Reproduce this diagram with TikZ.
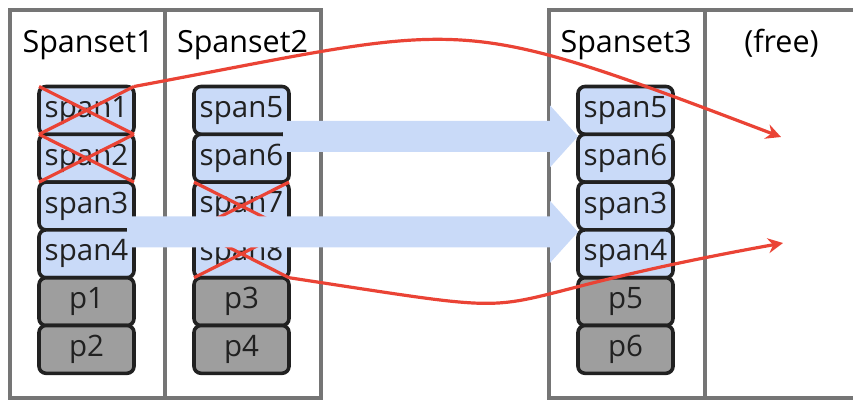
\documentclass[tikz,border=0pt]{standalone}
\usepackage{fontspec}
\setmainfont{Open Sans}
\usetikzlibrary{calc,arrows.meta}
\definecolor{colgray}{HTML}{757575}
\definecolor{boxblue}{HTML}{C9DAF8}
\definecolor{boxgray}{HTML}{9E9E9E}
\definecolor{boxline}{HTML}{212121}
\definecolor{redline}{HTML}{EA4335}
\newcommand{\fatarrow}[2]{%
  \fill[bigarrow] ($(#1)+(0,-15.5)$) -- ($(#2)+(-28,-15.5)$) -- ($(#2)+(-28,-31)$) -- (#2)
    -- ($(#2)+(-28,31)$) -- ($(#2)+(-28,15.5)$) -- ($(#1)+(0,15.5)$) -- cycle;}
\begin{document}
\begin{tikzpicture}[x=1pt,y=-1pt,
  column/.style={draw=colgray,line width=3.2pt},
  spanbox/.style={draw=boxline,line width=3.6pt,rounded corners=7pt,fill=boxblue,
    minimum width=95pt,minimum height=47.8pt,inner sep=0pt,outer sep=0pt,
    font=\fontsize{29.5}{31}\selectfont,text=boxline},
  pbox/.style={spanbox,fill=boxgray},
  title/.style={font=\fontsize{30.5}{33}\selectfont,inner sep=0pt,anchor=base},
  cross/.style={draw=redline,line width=3.2pt},
  move/.style={draw=redline,line width=3.2pt,-{Stealth[length=15pt,width=15pt,inset=5pt]}},
  bigarrow/.style={fill=boxblue}]
\useasboundingbox (0,0) rectangle (853,400);
\clip (0,0) rectangle (853,400);
% columns
\draw[column] (10,10) rectangle (165,398);
\draw[column] (165,10) rectangle (321,398);
\draw[column] (549,10) rectangle (705,398);
\draw[column] (705,10) rectangle (870,398);
% titles
\node[title] (t1) at (88,52) {Spanset1};
\node[title] (t2) at (242.5,52) {Spanset2};
\node[title] (t3) at (626,52) {Spanset3};
\node[title] (t4) at (781.5,52) {(free)};
% Spanset1
\node[spanbox] (a1) at (86.5,110.4) {span1};
\node[spanbox] (a2) at (86.5,158.2) {span2};
\node[spanbox] (a3) at (86.5,206.0) {span3};
\node[spanbox] (a4) at (86.5,253.8) {span4};
\node[pbox] (a5) at (86.5,301.6) {p1};
\node[pbox] (a6) at (86.5,349.4) {p2};
% Spanset2
\node[spanbox] (b5) at (241.5,110.4) {span5};
\node[spanbox] (b6) at (241.5,158.2) {span6};
\node[spanbox] (b7) at (241.5,206.0) {span7};
\node[spanbox] (b8) at (241.5,253.8) {span8};
\node[pbox] (b9) at (241.5,301.6) {p3};
\node[pbox] (b10) at (241.5,349.4) {p4};
% Spanset3
\node[spanbox] (c5) at (625.5,110.4) {span5};
\node[spanbox] (c6) at (625.5,158.2) {span6};
\node[spanbox] (c3) at (625.5,206.0) {span3};
\node[spanbox] (c4) at (625.5,253.8) {span4};
\node[pbox] (c7) at (625.5,301.6) {p5};
\node[pbox] (c8) at (625.5,349.4) {p6};
% crosses
\foreach \n in {a1,a2,b7,b8}{
  \draw[cross] (\n.north west) -- (\n.south east) (\n.south west) -- (\n.north east);
}
% free targets
\coordinate (f1) at (781,137);
\coordinate (f2) at (783,243);
\draw[move] (a1.north east) .. controls (475,23) and (447,10) .. (f1);
\draw[move] (b8.south east) .. controls (587,323) and (433,306) .. (f2);
% big blue arrows
\coordinate (u0) at ($(b5.south east)+(-6,2)$);
\coordinate (u1) at ($(c5.south west)+(0,2)$);
\coordinate (l0) at ($(a3.south east)+(-7,2)$);
\coordinate (l1) at ($(c3.south west)+(0,2)$);
\fatarrow{u0}{u1}
\fatarrow{l0}{l1}
\end{tikzpicture}
\end{document}
